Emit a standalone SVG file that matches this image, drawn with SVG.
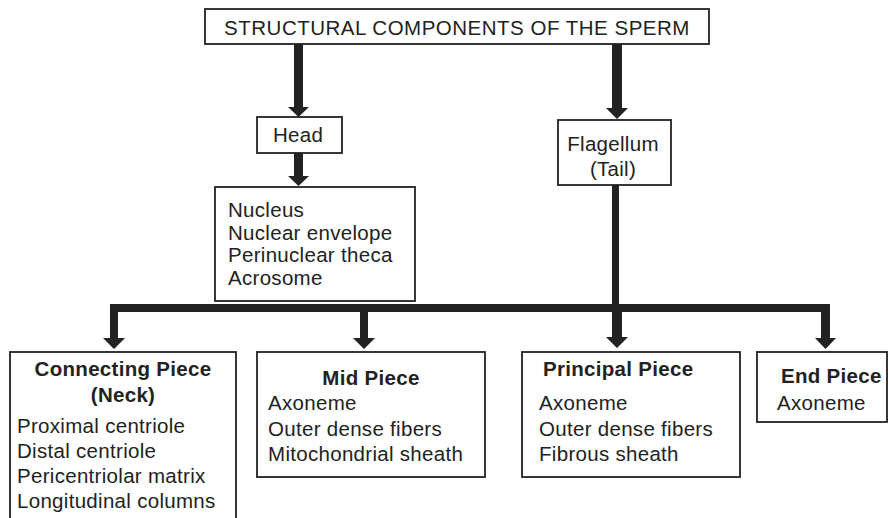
<svg xmlns="http://www.w3.org/2000/svg" width="888" height="518" viewBox="0 0 888 518">
<style>
.box{fill:#fff;stroke:#222;stroke-width:1.8}
text{font-family:"Liberation Sans",Arial,Helvetica,sans-serif;font-size:20.5px;fill:#222;letter-spacing:0.3px}
.b{font-weight:bold}
.c{text-anchor:middle}
.t{letter-spacing:0.5px}
.con{fill:#222}
</style>
<rect width="888" height="518" fill="#fff"/>
<g id="connectors" class="con">
<polygon points="294,44 303,44 303,107 309,107 298.5,117 288,107 294,107"/>
<polygon points="612,44 622,44 622,108 628,108 617,119 606,108 612,108"/>
<polygon points="294,153 303,153 303,176 309,176 298.5,186 288,176 294,176"/>
<rect x="612" y="185" width="7" height="122"/>
<rect x="110" y="304" width="720" height="8"/>
<polygon points="110,304 118,304 118,338 125,338 114,349 103,338 110,338"/>
<polygon points="360,308 368,308 368,338 375,338 364,349 353,338 360,338"/>
<polygon points="612,308 622,308 622,337 628,337 617,348 606,337 612,337"/>
<polygon points="821,304 830,304 830,338 836,338 825.5,349 815,338 821,338"/>
</g>
<g id="root">
<rect class="box" x="205" y="9" width="504" height="35"/>
<text class="c t" x="457" y="35">STRUCTURAL COMPONENTS OF THE SPERM</text>
</g>
<g id="head">
<rect class="box" x="257" y="117" width="85" height="36"/>
<text class="c" x="298" y="142">Head</text>
</g>
<g id="head-parts">
<rect class="box" x="215" y="187" width="200" height="114"/>
<text x="228" y="217">Nucleus</text>
<text x="228" y="240">Nuclear envelope</text>
<text x="228" y="262">Perinuclear theca</text>
<text x="228" y="285">Acrosome</text>
</g>
<g id="flagellum">
<rect class="box" x="558" y="120" width="113" height="65"/>
<text class="c" x="613" y="151">Flagellum</text>
<text class="c" x="613" y="176">(Tail)</text>
</g>
<g id="connecting-piece">
<rect class="box" x="10" y="352" width="226" height="200"/>
<text class="b c" x="123" y="376">Connecting Piece</text>
<text class="b c" x="123" y="402">(Neck)</text>
<text x="17" y="433">Proximal centriole</text>
<text x="17" y="458">Distal centriole</text>
<text x="17" y="483">Pericentriolar matrix</text>
<text x="17" y="508">Longitudinal columns</text>
</g>
<g id="mid-piece">
<rect class="box" x="257" y="352" width="228" height="125"/>
<text class="b c" x="371" y="385">Mid Piece</text>
<text x="268" y="410">Axoneme</text>
<text x="268" y="436">Outer dense fibers</text>
<text x="268" y="461">Mitochondrial sheath</text>
</g>
<g id="principal-piece">
<rect class="box" x="522" y="352" width="218" height="125"/>
<text class="b" x="543" y="376">Principal Piece</text>
<text x="539" y="410">Axoneme</text>
<text x="539" y="436">Outer dense fibers</text>
<text x="539" y="461">Fibrous sheath</text>
</g>
<g id="end-piece">
<rect class="box" x="757" y="352" width="130" height="70"/>
<text class="b" x="781" y="383">End Piece</text>
<text x="777" y="410">Axoneme</text>
</g>
</svg>
